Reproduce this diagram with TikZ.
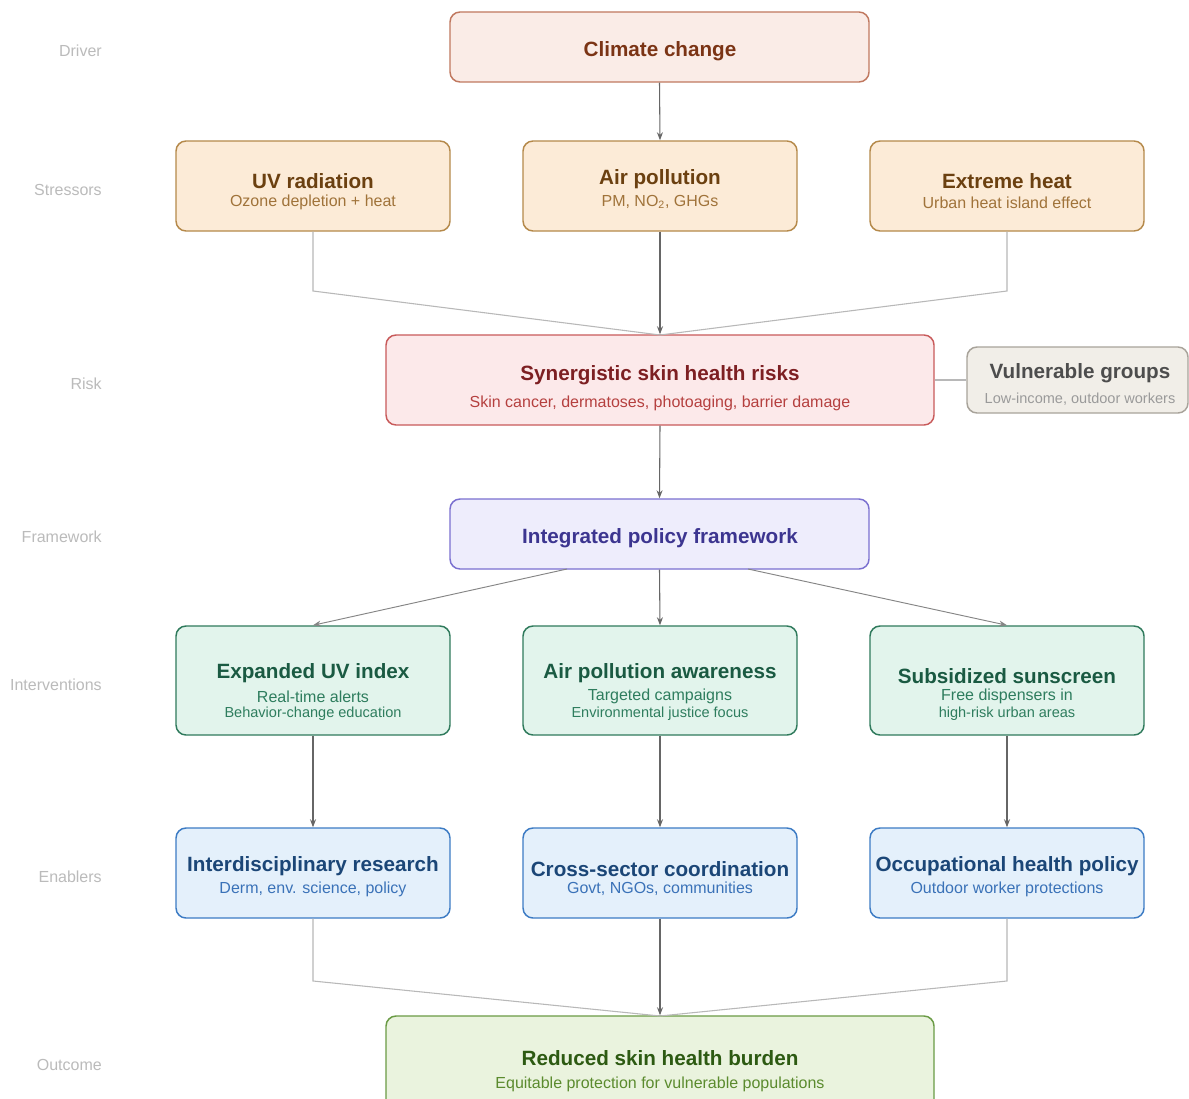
\documentclass[tikz,border=0pt]{standalone}
\usepackage{fontspec}
\setmainfont{Liberation Sans}
\usetikzlibrary{arrows.meta,fit}
\definecolor{cF}{HTML}{FAECE7}\definecolor{cD}{HTML}{C0785F}\definecolor{cT}{HTML}{7B3415}
\definecolor{sF}{HTML}{FCEBD7}\definecolor{sD}{HTML}{B5894A}\definecolor{sT}{HTML}{6B4010}\definecolor{sS}{HTML}{A0733A}
\definecolor{rF}{HTML}{FCE9EA}\definecolor{rD}{HTML}{C85A5A}\definecolor{rT}{HTML}{7D1F22}\definecolor{rS}{HTML}{B5403F}
\definecolor{vF}{HTML}{F1EEE8}\definecolor{vD}{HTML}{A8A39A}\definecolor{vT}{HTML}{4D4D4D}\definecolor{vS}{HTML}{9A9A9A}
\definecolor{fF}{HTML}{EEEDFC}\definecolor{fD}{HTML}{7A70D0}\definecolor{fT}{HTML}{3C3590}
\definecolor{iF}{HTML}{E2F4EC}\definecolor{iD}{HTML}{2F7A5C}\definecolor{iT}{HTML}{1A5A42}\definecolor{iS}{HTML}{2E7D5E}
\definecolor{eF}{HTML}{E4F0FB}\definecolor{eD}{HTML}{3C7BC4}\definecolor{eT}{HTML}{1B4677}\definecolor{eS}{HTML}{3A72B8}
\definecolor{oF}{HTML}{EAF3DE}\definecolor{oD}{HTML}{6A9B45}\definecolor{oT}{HTML}{2D5A12}\definecolor{oS}{HTML}{5B8B2E}
\definecolor{lblC}{HTML}{BBBBBB}
\definecolor{arrC}{HTML}{666666}
\definecolor{sideC}{HTML}{B8B8B8}
\tikzset{
  box/.style={rounded corners=7.5pt, line width=1.1pt, inner sep=0pt, draw},
  ttl/.style={font=\fontsize{15.5}{18}\selectfont\bfseries, inner sep=0pt},
  sub/.style={font=\fontsize{12}{14}\selectfont, inner sep=0pt},
  subb/.style={font=\fontsize{10.9}{13}\selectfont, inner sep=0pt},
  lbl/.style={font=\fontsize{12}{14}\selectfont, text=lblC, anchor=east, inner sep=0pt},
  arr/.style={draw=arrC, line width=0.8pt, -{Stealth[length=6pt,width=4.5pt]}},
  darr/.style={draw=arrC!80, line width=0.7pt, -{Stealth[length=6pt,width=4.5pt]}},
  side/.style={draw=sideC, line width=0.8pt},
}
\begin{document}
\begin{tikzpicture}[x=0.75pt,y=-0.75pt]
\useasboundingbox (0,0) rectangle (1189,1099);
\clip (0,0) rectangle (1189,1099);
\fill[white] (0,0) rectangle (1189,1099);

% layer labels
\node[lbl] (lDriver) at (102,51) {Driver};
\node[lbl] (lStress) at (102,190) {Stressors};
\node[lbl] (lRisk) at (102,384) {Risk};
\node[lbl] (lFrame) at (102,537) {Framework};
\node[lbl] (lInt) at (102,685) {Interventions};
\node[lbl] (lEnab) at (102,877) {Enablers};
\node[lbl] (lOut) at (102,1065) {Outcome};

% boxes
\node[box, fill=cF, draw=cD, fit={(450,12)(869,82)}] (clim) {};
\node[box, fill=sF, draw=sD, fit={(176,141)(450,231)}] (uv) {};
\node[box, fill=sF, draw=sD, fit={(523,141)(797,231)}] (air) {};
\node[box, fill=sF, draw=sD, fit={(870,141)(1144,231)}] (heat) {};
\node[box, fill=rF, draw=rD, fit={(386,335)(934,425)}] (risk) {};
\node[box, fill=vF, draw=vD, fit={(967,347)(1188,413)}] (vul) {};
\node[box, fill=fF, draw=fD, fit={(450,499)(869,569)}] (fw) {};
\node[box, fill=iF, draw=iD, fit={(176,626)(450,735)}] (uvi) {};
\node[box, fill=iF, draw=iD, fit={(523,626)(797,735)}] (apa) {};
\node[box, fill=iF, draw=iD, fit={(870,626)(1144,735)}] (sun) {};
\node[box, fill=eF, draw=eD, fit={(176,828)(450,918)}] (res) {};
\node[box, fill=eF, draw=eD, fit={(523,828)(797,918)}] (coord) {};
\node[box, fill=eF, draw=eD, fit={(870,828)(1144,918)}] (occ) {};
\node[box, fill=oF, draw=oD, fit={(386,1016)(934,1120)}] (out) {};

% texts
\begin{scope}[yshift=-1.5pt]
\node[ttl, text=cT] (climT) at (660,49) {Climate change};
\node[ttl, text=sT] (uvT) at (313,179) {UV radiation};
\node[sub, text=sS] (uvS) at (313,200) {Ozone depletion + heat};
\node[ttl, text=sT] (airT) at (660,177) {Air pollution};
\node[sub, text=sS] (airS) at (660,200) {PM, NO\textsubscript{2}, GHGs};
\node[ttl, text=sT] (heatT) at (1007,179) {Extreme heat};
\node[sub, text=sS] (heatS) at (1007,201) {Urban heat island effect};
\node[ttl, text=rT] (riskT) at (660,373) {Synergistic skin health risks};
\node[sub, text=rS] (riskS) at (660,401) {Skin cancer, dermatoses, photoaging, barrier damage};
\node[ttl, text=vT] (vulT) at (1080,371) {Vulnerable groups};
\node[subb, text=vS] (vulS) at (1080,397) {Low-income, outdoor workers};
\node[ttl, text=fT] (fwT) at (660,536) {Integrated policy framework};
\node[ttl, text=iT] (uviT) at (313,671) {Expanded UV index};
\node[sub, text=iS] (uviS) at (313,695) {Real-time alerts};
\node[subb, text=iS] (uviS2) at (313,712) {Behavior-change education};
\node[ttl, text=iT] (apaT) at (660,671) {Air pollution awareness};
\node[sub, text=iS] (apaS) at (660,694) {Targeted campaigns};
\node[subb, text=iS] (apaS2) at (660,712) {Environmental justice focus};
\node[ttl, text=iT] (sunT) at (1007,674) {Subsidized sunscreen};
\node[sub, text=iS] (sunS) at (1007,694) {Free dispensers in};
\node[subb, text=iS] (sunS2) at (1007,712) {high-risk urban areas};
\node[ttl, text=eT] (resT) at (313,864) {Interdisciplinary research};
\node[sub, text=eS] (resS) at (313,887) {Derm, env. science, policy};
\node[ttl, text=eT] (coordT) at (660,867) {Cross-sector coordination};
\node[sub, text=eS] (coordS) at (660,887) {Govt, NGOs, communities};
\node[ttl, text=eT] (occT) at (1007,864) {Occupational health policy};
\node[sub, text=eS] (occS) at (1007,887) {Outdoor worker protections};
\node[ttl, text=oT] (outT) at (660,1056) {Reduced skin health burden};
\node[sub, text=oS] (outS) at (660,1082) {Equitable protection for vulnerable populations};
\end{scope}

% helper coordinates
\coordinate (uvK) at (313,291);
\coordinate (heatK) at (1007,291);
\coordinate (riskTop) at (660,335);
\coordinate (fwL) at (567,569);
\coordinate (fwR) at (748,569);
\coordinate (resK) at (313,981);
\coordinate (occK) at (1007,981);
\coordinate (outTop) at (660,1016);

% connectors
\draw[arr] (clim.south) -- (air.north);
\draw[side] (uv.south) -- (uvK) -- (riskTop);
\draw[side] (heat.south) -- (heatK) -- (riskTop);
\draw[arr] (air.south) -- (risk.north);
\draw[side] (risk.east) -- (vul.west);
\draw[arr] (risk.south) -- (fw.north);
\draw[darr] (fwL) -- (uvi.north);
\draw[arr] (fw.south) -- (apa.north);
\draw[darr] (fwR) -- (sun.north);
\draw[arr] (uvi.south) -- (res.north);
\draw[arr] (apa.south) -- (coord.north);
\draw[arr] (sun.south) -- (occ.north);
\draw[side] (res.south) -- (resK) -- (outTop);
\draw[side] (occ.south) -- (occK) -- (outTop);
\draw[arr] (coord.south) -- (out.north);
\end{tikzpicture}
\end{document}
